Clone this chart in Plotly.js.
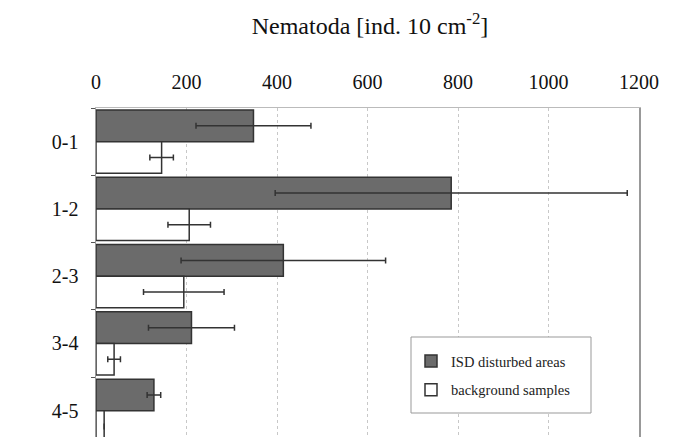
<!DOCTYPE html>
<html>
<head>
<meta charset="utf-8">
<script src="https://cdn.plot.ly/plotly-3.0.1.min.js"></script>
<style>html,body{margin:0;padding:0;background:#fff;}#chart{width:674px;height:437px;}</style>
</head>
<body>
<div id="chart"></div>
<script>
const categories = ['0-1', '1-2', '2-3', '3-4', '4-5'];
const isdMean = [348, 785, 414, 211, 128];
const isdErr = [127, 389, 226, 95, 15];
const bgMean = [145, 206, 194, 40, 18];
const bgErr = [26, 47, 89, 14, 0];
const xTicks = [0, 200, 400, 600, 800, 1000, 1200];

const serif = '"Liberation Serif", "Times New Roman", serif';

const traces = [
  {
    type: 'bar', orientation: 'h', name: 'ISD disturbed areas',
    y: categories, x: isdMean, legendgroup: 'a',
    marker: {color: '#6b6b6b', line: {color: '#333333', width: 1.5}},
    error_x: {type: 'data', array: isdErr, visible: true, color: '#333333', thickness: 1.5, width: 3}
  },
  {
    type: 'bar', orientation: 'h', name: 'background samples',
    y: categories, x: bgMean, legendgroup: 'b',
    marker: {color: '#ffffff', line: {color: '#333333', width: 1.5}},
    error_x: {type: 'data', array: bgErr, visible: true, color: '#333333', thickness: 1.5, width: 3}
  }
];

// plot area: x 96..639, y 108..437 (px)
const px2x = p => (p - 96) / 543;
const px2y = p => 1 - (p - 108) / 329;

const layout = {
  width: 674, height: 437,
  margin: {l: 96, r: 35, t: 108, b: 0},
  paper_bgcolor: '#ffffff', plot_bgcolor: '#ffffff',
  font: {family: serif, color: '#111111', size: 20},
  barmode: 'group', bargap: 0.06, bargroupgap: 0,
  title: {
    text: 'Nematoda [ind. 10 cm<sup>-2</sup>]',
    x: 370 / 674, xanchor: 'center', xref: 'container',
    y: 1 - 26 / 437, yanchor: 'middle', yref: 'container',
    font: {family: serif, size: 24, color: '#111111'}
  },
  xaxis: {
    side: 'top', range: [0, 1200], tickvals: xTicks, ticktext: xTicks.map(String),
    showgrid: true, gridcolor: '#c8c8c8', griddash: 'dot', gridwidth: 1,
    zeroline: false, showline: true, linecolor: '#bbbbbb', linewidth: 1.5,
    ticks: '', ticklabelstandoff: 10,
    tickfont: {family: serif, size: 20, color: '#111111'}
  },
  yaxis: {
    type: 'category', categoryorder: 'array', categoryarray: categories,
    range: [4.39, -0.5],
    showgrid: false, zeroline: false,
    showline: true, linecolor: '#999999', linewidth: 1.5, mirror: true,
    ticks: 'outside', ticklen: 4, tickcolor: '#555555', tickson: 'boundaries',
    ticklabelstandoff: 12,
    tickfont: {family: serif, size: 20, color: '#111111'}
  },
  legend: {
    x: px2x(411), xanchor: 'left',
    y: px2y(345), yanchor: 'top',
    bgcolor: 'rgba(0,0,0,0)', borderwidth: 0,
    font: {family: serif, size: 14.5, color: '#222222'},
    traceorder: 'grouped', tracegroupgap: 7
  },
  shapes: [{
    type: 'rect', xref: 'paper', yref: 'paper',
    x0: px2x(411), x1: px2x(591), y0: px2y(413), y1: px2y(337),
    line: {color: '#999999', width: 1}, fillcolor: '#ffffff', layer: 'above'
  }],
  showlegend: true
};

Plotly.newPlot('chart', traces, layout, {displayModeBar: false, staticPlot: true});
</script>
</body>
</html>
